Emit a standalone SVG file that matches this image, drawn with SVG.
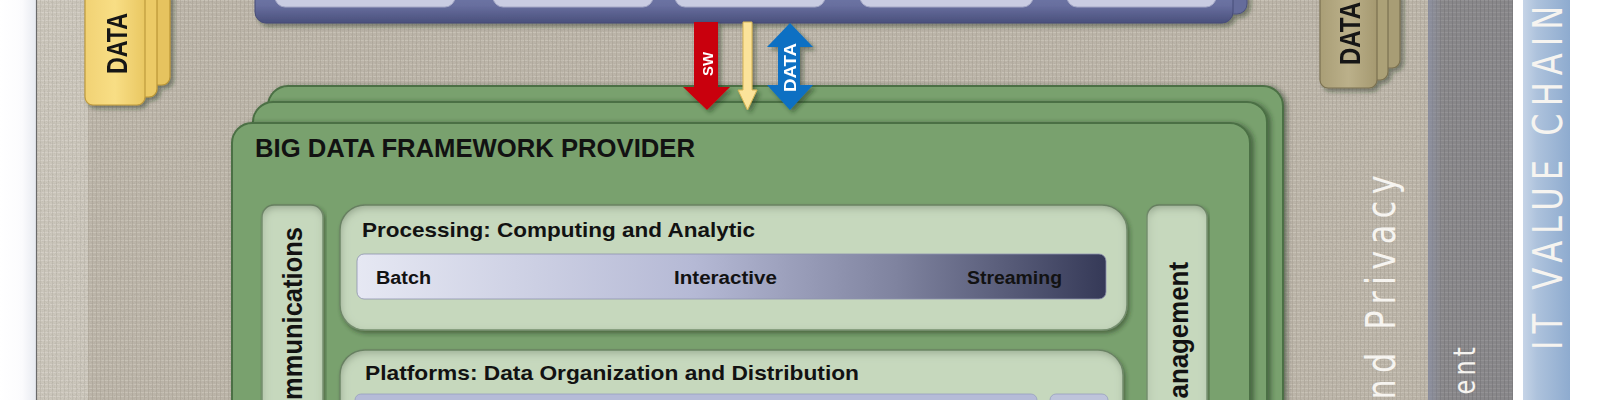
<svg xmlns="http://www.w3.org/2000/svg" width="1600" height="400" viewBox="0 0 1600 400">
<defs>
<style>
.b{font-family:"Liberation Sans",Arial,sans-serif;font-weight:bold;fill:#121212}
.w{font-family:"DejaVu Sans","Liberation Sans",sans-serif;fill:#f6f4f0}
.wb{font-family:"Liberation Sans",Arial,sans-serif;font-weight:bold;fill:#ffffff}
.green{fill:#79a16e;stroke:#4b6f44;stroke-width:2}
.panel{fill:#c6d8bd;stroke:#7d9676;stroke-width:1.5}
.sub{fill:#c9cce2;stroke:#a4a8c6;stroke-width:1}
</style>
<pattern id="linen" width="4" height="4" patternUnits="userSpaceOnUse">
<rect width="4" height="4" fill="#bcb5a9"/>
<rect width="4" height="1" fill="#cdc8bd" opacity=".7"/>
<rect width="1" height="4" fill="#a7a094" opacity=".55"/>
</pattern>
<pattern id="linenL" width="4" height="4" patternUnits="userSpaceOnUse">
<rect width="4" height="4" fill="#cbc6bb"/>
<rect width="4" height="1" fill="#d9d5cc" opacity=".7"/>
<rect width="1" height="4" fill="#b6b0a5" opacity=".5"/>
</pattern>
<pattern id="grayweave" width="4" height="4" patternUnits="userSpaceOnUse">
<rect width="4" height="4" fill="#88878a"/>
<rect width="4" height="1" fill="#98979a" opacity=".7"/>
<rect width="1" height="4" fill="#747377" opacity=".6"/>
</pattern>
<filter id="grain" x="0" y="0" width="100%" height="100%">
<feTurbulence type="fractalNoise" baseFrequency="0.85" numOctaves="2" seed="7" result="n"/>
<feColorMatrix in="n" type="matrix" values="0 0 0 0 0.3  0 0 0 0 0.28  0 0 0 0 0.25  1.2 0 0 0 -0.56"/>
</filter>
<filter id="shadow" x="-10%" y="-10%" width="130%" height="130%">
<feDropShadow dx="3" dy="3" stdDeviation="2" flood-color="#1f2a1c" flood-opacity=".45"/>
</filter>
<filter id="gshadow" x="-5%" y="-10%" width="110%" height="130%">
<feDropShadow dx="3" dy="1" stdDeviation="2.5" flood-color="#22341e" flood-opacity=".55"/>
</filter>
<filter id="inset" x="-5%" y="-8%" width="110%" height="120%">
<feComponentTransfer in="SourceAlpha" result="inv"><feFuncA type="table" tableValues="1 0"/></feComponentTransfer>
<feGaussianBlur in="inv" stdDeviation="4" result="ib"/>
<feOffset in="ib" dx="1" dy="3" result="io"/>
<feFlood flood-color="#3b5535" flood-opacity="0.6"/>
<feComposite in2="io" operator="in" result="is"/>
<feComposite in="is" in2="SourceAlpha" operator="in" result="inner"/>
<feGaussianBlur in="SourceAlpha" stdDeviation="2" result="ob"/>
<feOffset in="ob" dx="2" dy="3" result="oo"/>
<feFlood flood-color="#24361f" flood-opacity="0.5"/>
<feComposite in2="oo" operator="in" result="outer"/>
<feMerge><feMergeNode in="outer"/><feMergeNode in="SourceGraphic"/><feMergeNode in="inner"/></feMerge>
</filter>
<linearGradient id="leftMargin" x1="0" y1="0" x2="1" y2="0">
<stop offset="0" stop-color="#ffffff"/><stop offset=".6" stop-color="#fbfbfd"/><stop offset="1" stop-color="#e6e9f0"/>
</linearGradient>
<linearGradient id="blueBand" x1="0" y1="0" x2="1" y2="0">
<stop offset="0" stop-color="#c6d4e7"/><stop offset=".3" stop-color="#adc2dc"/><stop offset="1" stop-color="#8eabcf"/>
</linearGradient>
<linearGradient id="grayEdge" x1="0" y1="0" x2="1" y2="0">
<stop offset="0" stop-color="#8e93a8" stop-opacity=".7"/><stop offset="1" stop-color="#8e93a8" stop-opacity="0"/>
</linearGradient>
<linearGradient id="appBlue" x1="0" y1="0" x2="0" y2="1">
<stop offset="0" stop-color="#7c82b0"/><stop offset=".6" stop-color="#676e9e"/><stop offset="1" stop-color="#4a507c"/>
</linearGradient>
<linearGradient id="yellow" x1="0" y1="0" x2="1" y2="0">
<stop offset="0" stop-color="#f1d274"/><stop offset=".5" stop-color="#f8de85"/><stop offset="1" stop-color="#e9c762"/>
</linearGradient>
<linearGradient id="khaki" x1="0" y1="0" x2="1" y2="0">
<stop offset="0" stop-color="#a99e76"/><stop offset=".5" stop-color="#bbb08a"/><stop offset="1" stop-color="#a59970"/>
</linearGradient>
<linearGradient id="procBar" x1="0" y1="0" x2="1" y2="0">
<stop offset="0" stop-color="#e6e8f3"/><stop offset=".45" stop-color="#b5b9d5"/><stop offset=".72" stop-color="#7f839f"/><stop offset="1" stop-color="#353957"/>
</linearGradient>
</defs>

<!-- background -->
<g id="background">
<rect x="0" y="0" width="37" height="400" fill="url(#leftMargin)"/>
<rect x="37" y="0" width="1391" height="400" fill="url(#linen)"/>
<rect x="37" y="0" width="51" height="400" fill="url(#linenL)"/>
<rect x="37" y="0" width="1391" height="400" fill="#000" filter="url(#grain)" opacity=".55"/>
<line x1="36.5" y1="0" x2="36.5" y2="400" stroke="#6a6a6a" stroke-width="1.2"/>
<rect x="1513" y="0" width="87" height="400" fill="#ffffff"/>
</g>

<g id="management-band">
<rect x="1428" y="0" width="85" height="400" fill="url(#grayweave)"/>
<rect x="1428" y="0" width="85" height="400" fill="#000" filter="url(#grain)" opacity=".5"/>
<rect x="1428" y="0" width="14" height="400" fill="url(#grayEdge)"/>
<text class="w" font-size="30" letter-spacing="5" text-anchor="end" transform="translate(1475,343) rotate(-90) scale(0.8,1)">Management</text>
</g>

<g id="security-privacy-band">
<text class="w" font-size="40" letter-spacing="8" text-anchor="end" transform="translate(1395,169) rotate(-90) scale(0.8,1)">Security and Privacy</text>
</g>

<g id="it-value-chain">
<rect x="1523" y="0" width="47" height="400" fill="url(#blueBand)"/>
<text class="w" font-size="40" letter-spacing="8.8" fill="#fafafa" transform="translate(1562,350) rotate(-90) scale(0.8,1)">IT VALUE CHAIN</text>
</g>

<!-- application provider (top, cropped) -->
<g id="application-provider" filter="url(#shadow)">
<rect x="262" y="-20" width="985" height="34" rx="10" fill="#656c9b" stroke="#4c527c" stroke-width="1"/>
<rect x="255" y="-20" width="978" height="43" rx="11" fill="url(#appBlue)" stroke="#474d78" stroke-width="1"/>
<rect class="sub" x="275" y="-20" width="180" height="27" rx="10"/>
<rect class="sub" x="493" y="-20" width="160" height="27" rx="10"/>
<rect class="sub" x="675" y="-20" width="150" height="27" rx="10"/>
<rect class="sub" x="860" y="-20" width="173" height="27" rx="10"/>
<rect class="sub" x="1067" y="-20" width="149" height="27" rx="10"/>
</g>

<!-- data tabs -->
<g id="data-left" filter="url(#shadow)">
<rect x="100" y="-20" width="70" height="105" rx="8" fill="#e6c35e" stroke="#b99535" stroke-width="1.2"/>
<rect x="92" y="-20" width="65" height="117" rx="8" fill="#ecca66" stroke="#b99535" stroke-width="1.2"/>
<rect x="85" y="-20" width="60" height="125" rx="8" fill="url(#yellow)" stroke="#bf9b3c" stroke-width="1.2"/>
<text class="b" font-size="29" x="-74" y="0" textLength="61" lengthAdjust="spacingAndGlyphs" transform="translate(127,0) rotate(-90)">DATA</text>
</g>

<g id="data-right" filter="url(#shadow)">
<rect x="1332" y="-20" width="68" height="88" rx="8" fill="#a89d74" stroke="#7b7150" stroke-width="1.2"/>
<rect x="1326" y="-20" width="62" height="100" rx="8" fill="#aca177" stroke="#7b7150" stroke-width="1.2"/>
<rect x="1320" y="-20" width="57" height="108" rx="8" fill="url(#khaki)" stroke="#7b7150" stroke-width="1.2"/>
<text class="b" font-size="30" x="-65" y="0" textLength="63" lengthAdjust="spacingAndGlyphs" transform="translate(1360,0) rotate(-90)">DATA</text>
</g>

<!-- framework provider stack -->
<g id="framework-provider">
<rect class="green" x="268" y="86" width="1015" height="360" rx="20" filter="url(#gshadow)"/>
<rect class="green" x="253" y="102" width="1014" height="360" rx="20" filter="url(#gshadow)"/>
<rect class="green" x="232" y="123" width="1018" height="360" rx="20" filter="url(#gshadow)"/>
<text class="b" font-size="25" x="255" y="157" textLength="440" lengthAdjust="spacingAndGlyphs">BIG DATA FRAMEWORK PROVIDER</text>
</g>

<g id="communications">
<rect class="panel" x="262" y="205" width="61" height="240" rx="12" filter="url(#inset)"/>
<text class="b" font-size="28" x="-207" y="0" textLength="207" lengthAdjust="spacingAndGlyphs" transform="translate(302,227) rotate(-90)">Communications</text>
</g>

<g id="management-panel">
<rect class="panel" x="1147" y="205" width="60" height="240" rx="12" filter="url(#inset)"/>
<text class="b" font-size="28" x="-158" y="0" textLength="158" lengthAdjust="spacingAndGlyphs" transform="translate(1188,262) rotate(-90)">Management</text>
</g>

<g id="processing">
<rect class="panel" x="340" y="205" width="787" height="125" rx="25" filter="url(#inset)"/>
<text class="b" font-size="21" x="362" y="237" textLength="393" lengthAdjust="spacingAndGlyphs">Processing: Computing and Analytic</text>
<rect x="357" y="254" width="749" height="45" rx="7" fill="url(#procBar)" stroke="#8d92ae" stroke-width=".8"/>
<text class="b" font-size="18" x="376" y="284" textLength="55" lengthAdjust="spacingAndGlyphs" fill="#1c1c24">Batch</text>
<text class="b" font-size="18" x="674" y="284" textLength="103" lengthAdjust="spacingAndGlyphs" fill="#1c1c24">Interactive</text>
<text class="b" font-size="18" x="967" y="284" textLength="95" lengthAdjust="spacingAndGlyphs" fill="#1c1c24">Streaming</text>
</g>

<g id="platforms">
<rect class="panel" x="340" y="350" width="783" height="90" rx="25" filter="url(#inset)"/>
<text class="b" font-size="21" x="365" y="380" textLength="494" lengthAdjust="spacingAndGlyphs">Platforms: Data Organization and Distribution</text>
<rect x="355" y="394" width="682" height="30" rx="6" fill="#b5bbd7" stroke="#98a0c0" stroke-width=".8"/>
<rect x="1050" y="394" width="58" height="30" rx="6" fill="#bec4db" stroke="#98a0c0" stroke-width=".8"/>
</g>

<!-- connectors -->
<g id="connectors" filter="url(#shadow)">
<polygon id="arrow-sw" points="694,22 718,22 718,87 730,87 707,110 683,87 694,87" fill="#c9000d"/>
<polygon id="arrow-yellow" points="743,22 752,22 752,90 757,90 747.5,110 738,90 743,90" fill="#fbe39a" stroke="#d6b453" stroke-width="1"/>
<polygon id="arrow-data" points="790,23 813,47 800,47 800,85 813,85 790,110 767,85 778,85 778,47 767,47" fill="#0b6fc3"/>
<text class="wb" font-size="14" x="-76" y="0" textLength="24" lengthAdjust="spacingAndGlyphs" transform="translate(713,0) rotate(-90)">SW</text>
<text class="wb" font-size="16" x="-92" y="0" textLength="49" lengthAdjust="spacingAndGlyphs" transform="translate(796,0) rotate(-90)">DATA</text>
</g>
</svg>
